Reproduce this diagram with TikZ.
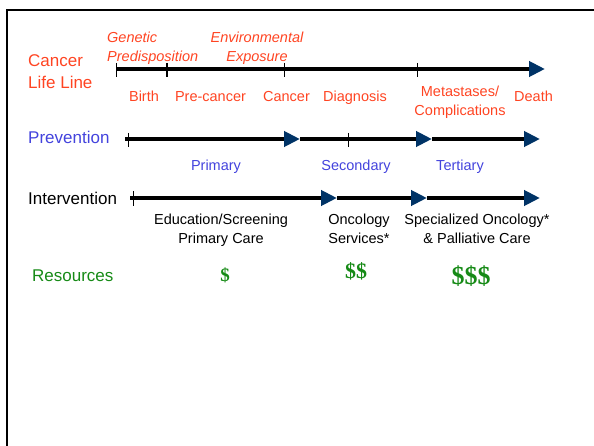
\documentclass[tikz,border=0pt]{standalone}
\usepackage{fontspec}
\setmainfont{Liberation Sans}
\newfontfamily\dollarfont{Liberation Serif}
\usetikzlibrary{arrows.meta}
\definecolor{lifeorange}{HTML}{FF4422}
\definecolor{prevblue}{HTML}{4343DD}
\definecolor{resgreen}{HTML}{168A16}
\definecolor{tipnavy}{HTML}{003366}
\begin{document}
\begin{tikzpicture}[x=1pt,y=-1pt,
  rowlabel/.style={font=\fontsize{17}{22}\selectfont, inner sep=0pt, anchor=base west, align=left},
  stagelabel/.style={font=\fontsize{14.5}{19}\selectfont, inner sep=0pt, anchor=base, align=center},
  factorlabel/.style={font=\fontsize{14.5}{19}\selectfont\itshape, inner sep=0pt, anchor=base, text=lifeorange},
  money/.style={font=\dollarfont\bfseries, inner sep=0pt, anchor=base, text=resgreen},
  axisline/.style={line width=4pt},
  tipped/.style={axisline, -{Triangle[length=16pt,width=15pt,color=tipnavy]}},
  thintick/.style={line width=1pt},
  thicktick/.style={line width=2.5pt},
  frameline/.style={line width=2.5pt}
]
\useasboundingbox (0,0) rectangle (594,446);

% frame
\coordinate (fbl) at (7,447);
\coordinate (ftl) at (7,10);
\coordinate (ftr) at (595,10);
\draw[frameline] (fbl) -- (ftl) -- (ftr);

% row labels (multi-line nodes: base = last line's baseline)
\node[rowlabel, text=lifeorange] (cancerlbl) at (28,89) {Cancer\\Life Line};
\node[rowlabel, text=prevblue] (prevlbl) at (28,144) {Prevention};
\node[rowlabel] (intlbl) at (28,205) {Intervention};
\node[rowlabel, text=resgreen] (reslbl) at (32,282) {Resources};

% factors
\node[factorlabel, anchor=base west, align=left] (genetic) at (107,62) {Genetic\\Predisposition};
\node[factorlabel, align=center] (environ) at (257,62) {Environmental\\Exposure};

% life line
\coordinate (l1s) at (116,69);
\coordinate (l1e) at (545,69);
\draw[tipped] (l1s) -- (l1e);
\foreach \x in {116,284,417} \draw[thintick] (\x,63) -- (\x,77);
\draw[thicktick] (167,63) -- (167,77);

\node[stagelabel, text=lifeorange] (birth) at (144,102) {Birth};
\node[stagelabel, text=lifeorange] (precancer) at (210.5,102) {Pre-cancer};
\node[stagelabel, text=lifeorange] (cancer) at (286.5,102) {Cancer};
\node[stagelabel, text=lifeorange] (diagnosis) at (355,102) {Diagnosis};
\node[stagelabel, text=lifeorange] (metast) at (460,116) {Metastases/\\Complications};
\node[stagelabel, text=lifeorange] (death) at (533.5,102) {Death};

% prevention line
\coordinate (p2s) at (125,139);
\coordinate (p2a) at (300,139);
\coordinate (p2b) at (432,139);
\coordinate (p2e) at (540,139);
\draw[tipped] (p2s) -- (p2a);
\draw[tipped] (p2a) -- (p2b);
\draw[tipped] (p2b) -- (p2e);
\draw[thintick] (128,133) -- (128,147);
\draw[thintick] (348,133) -- (348,147);

\node[stagelabel, text=prevblue] (primary) at (216,171) {Primary};
\node[stagelabel, text=prevblue] (secondary) at (356,171) {Secondary};
\node[stagelabel, text=prevblue] (tertiary) at (460,171) {Tertiary};

% intervention line
\coordinate (i3s) at (130,198);
\coordinate (i3a) at (337,198);
\coordinate (i3b) at (427,198);
\coordinate (i3e) at (540,198);
\draw[tipped] (i3s) -- (i3a);
\draw[tipped] (i3a) -- (i3b);
\draw[tipped] (i3b) -- (i3e);
\draw[thintick] (133,191) -- (133,206);

\node[stagelabel] (edu) at (221,244) {Education/Screening\\Primary Care};
\node[stagelabel] (onc) at (359,244) {Oncology\\Services*};
\node[stagelabel] (spec) at (477,244) {Specialized Oncology*\\\& Palliative Care};

% resources
\node[money, font=\dollarfont\bfseries\fontsize{19}{19}\selectfont] (d1) at (225,281) {\$};
\node[money, font=\dollarfont\bfseries\fontsize{22}{22}\selectfont] (d2) at (356,279) {\$\$};
\node[money, font=\dollarfont\bfseries\fontsize{26}{26}\selectfont] (d3) at (471,284) {\$\$\$};
\end{tikzpicture}
\end{document}
